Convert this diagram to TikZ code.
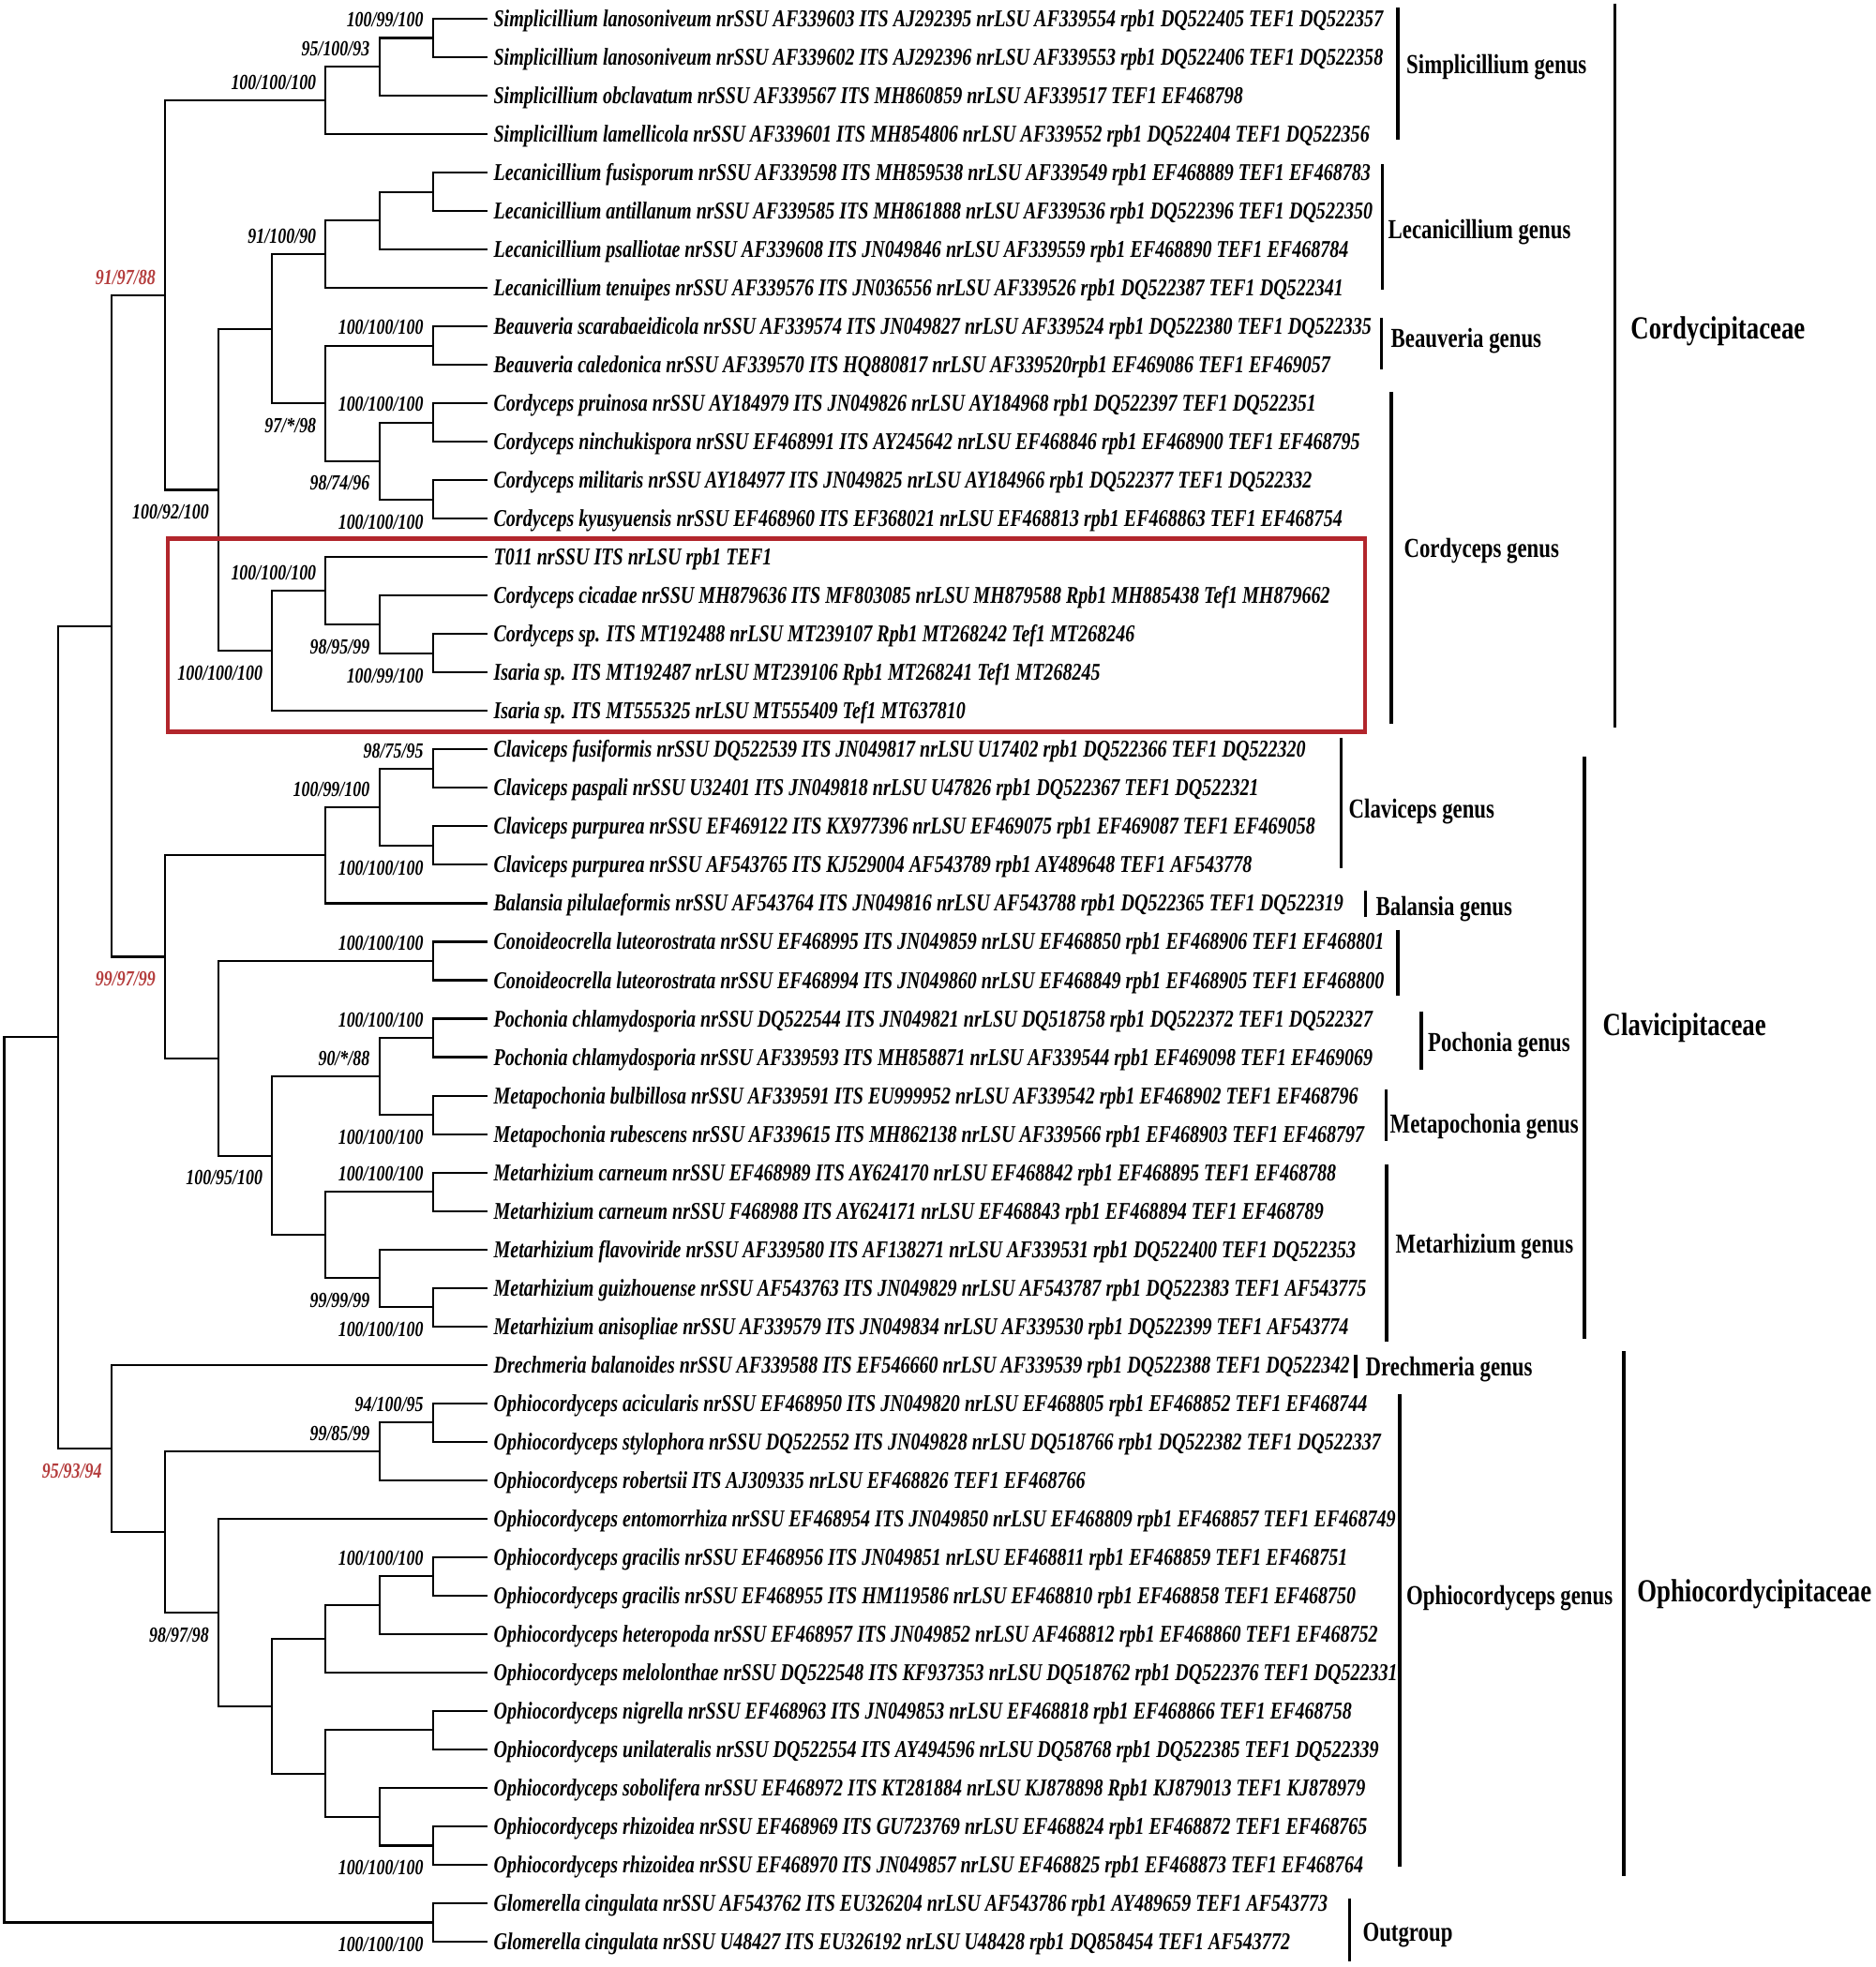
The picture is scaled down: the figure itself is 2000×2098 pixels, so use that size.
\documentclass[tikz,border=0pt]{standalone}
\usepackage{fontspec}
\setmainfont{Liberation Serif}[FakeStretch=0.78]
\usetikzlibrary{calc}
\definecolor{redlab}{RGB}{180,60,60}
\definecolor{redbox}{RGB}{178,38,44}
\tikzset{
  br/.style={line width=0.6pt, line cap=rect},
  bar/.style={line width=1.05pt},
  leaf/.style={anchor=west, inner xsep=2pt, inner ysep=0pt, text height=4.84pt, text depth=0pt,
    font=\fontsize{7.31}{8}\selectfont\bfseries\itshape},
  sup/.style={anchor=east, inner sep=0pt, text height=4.42pt, text depth=0pt,
    font=\fontsize{6.54}{7}\selectfont\bfseries\itshape},
  supr/.style={sup, text=redlab},
  genus/.style={anchor=west, inner sep=0pt, text height=5.5pt, text depth=0pt,
    font=\fontsize{8.32}{9}\selectfont\bfseries},
  family/.style={anchor=west, inner sep=0pt, text height=6.46pt, text depth=0pt,
    font=\fontsize{9.76}{11}\selectfont\bfseries},
  boxred/.style={draw=redbox, line width=1.15pt}
}
\newcommand\brn[2]{\draw[br] (#1) |- (#2);}
\begin{document}
\begin{tikzpicture}[x=0.01cm,y=-0.01cm]
\useasboundingbox (0,0) rectangle (2000,2098);
% ---------- leaves ----------
\node[leaf] (f1) at (518.85,20.00) {Simplicillium lanosoniveum nrSSU AF339603 ITS AJ292395 nrLSU AF339554 rpb1 DQ522405 TEF1 DQ522357};
\node[leaf] (f2) at (518.85,61.02) {Simplicillium lanosoniveum nrSSU AF339602 ITS AJ292396 nrLSU AF339553 rpb1 DQ522406 TEF1 DQ522358};
\node[leaf] (f3) at (518.85,102.04) {Simplicillium obclavatum nrSSU AF339567 ITS MH860859 nrLSU AF339517 TEF1 EF468798};
\node[leaf] (f4) at (518.85,143.06) {Simplicillium lamellicola nrSSU AF339601 ITS MH854806 nrLSU AF339552 rpb1 DQ522404 TEF1 DQ522356};
\node[leaf] (f5) at (518.85,184.08) {Lecanicillium fusisporum nrSSU AF339598 ITS MH859538 nrLSU AF339549 rpb1 EF468889 TEF1 EF468783};
\node[leaf] (f6) at (518.85,225.10) {Lecanicillium antillanum nrSSU AF339585 ITS MH861888 nrLSU AF339536 rpb1 DQ522396 TEF1 DQ522350};
\node[leaf] (f7) at (518.85,266.12) {Lecanicillium psalliotae nrSSU AF339608 ITS JN049846 nrLSU AF339559 rpb1 EF468890 TEF1 EF468784};
\node[leaf] (f8) at (518.85,307.14) {Lecanicillium tenuipes nrSSU AF339576 ITS JN036556 nrLSU AF339526 rpb1 DQ522387 TEF1 DQ522341};
\node[leaf] (f9) at (518.85,348.16) {Beauveria scarabaeidicola nrSSU AF339574 ITS JN049827 nrLSU AF339524 rpb1 DQ522380 TEF1 DQ522335};
\node[leaf] (f10) at (518.85,389.18) {Beauveria caledonica nrSSU AF339570 ITS HQ880817 nrLSU AF339520rpb1 EF469086 TEF1 EF469057};
\node[leaf] (f11) at (518.85,430.20) {Cordyceps pruinosa nrSSU AY184979 ITS JN049826 nrLSU AY184968 rpb1 DQ522397 TEF1 DQ522351};
\node[leaf] (f12) at (518.85,471.22) {Cordyceps ninchukispora nrSSU EF468991 ITS AY245642 nrLSU EF468846 rpb1 EF468900 TEF1 EF468795};
\node[leaf] (f13) at (518.85,512.24) {Cordyceps militaris nrSSU AY184977 ITS JN049825 nrLSU AY184966 rpb1 DQ522377 TEF1 DQ522332};
\node[leaf] (f14) at (518.85,553.26) {Cordyceps kyusyuensis nrSSU EF468960 ITS EF368021 nrLSU EF468813 rpb1 EF468863 TEF1 EF468754};
\node[leaf] (f15) at (518.85,594.28) {T011 nrSSU ITS nrLSU rpb1 TEF1};
\node[leaf] (f16) at (518.85,635.30) {Cordyceps cicadae nrSSU MH879636 ITS MF803085 nrLSU MH879588 Rpb1 MH885438 Tef1 MH879662};
\node[leaf] (f17) at (518.85,676.32) {Cordyceps sp. ITS MT192488 nrLSU MT239107 Rpb1 MT268242 Tef1 MT268246};
\node[leaf] (f18) at (518.85,717.34) {Isaria sp. ITS MT192487 nrLSU MT239106 Rpb1 MT268241 Tef1 MT268245};
\node[leaf] (f19) at (518.85,758.36) {Isaria sp. ITS MT555325 nrLSU MT555409 Tef1 MT637810};
\node[leaf] (f20) at (518.85,799.38) {Claviceps fusiformis nrSSU DQ522539 ITS JN049817 nrLSU U17402 rpb1 DQ522366 TEF1 DQ522320};
\node[leaf] (f21) at (518.85,840.40) {Claviceps paspali nrSSU U32401 ITS JN049818 nrLSU U47826 rpb1 DQ522367 TEF1 DQ522321};
\node[leaf] (f22) at (518.85,881.42) {Claviceps purpurea nrSSU EF469122 ITS KX977396 nrLSU EF469075 rpb1 EF469087 TEF1 EF469058};
\node[leaf] (f23) at (518.85,922.44) {Claviceps purpurea nrSSU AF543765 ITS KJ529004 AF543789 rpb1 AY489648 TEF1 AF543778};
\node[leaf] (f24) at (518.85,963.46) {Balansia pilulaeformis nrSSU AF543764 ITS JN049816 nrLSU AF543788 rpb1 DQ522365 TEF1 DQ522319};
\node[leaf] (f25) at (518.85,1004.48) {Conoideocrella luteorostrata nrSSU EF468995 ITS JN049859 nrLSU EF468850 rpb1 EF468906 TEF1 EF468801};
\node[leaf] (f26) at (518.85,1045.50) {Conoideocrella luteorostrata nrSSU EF468994 ITS JN049860 nrLSU EF468849 rpb1 EF468905 TEF1 EF468800};
\node[leaf] (f27) at (518.85,1086.52) {Pochonia chlamydosporia nrSSU DQ522544 ITS JN049821 nrLSU DQ518758 rpb1 DQ522372 TEF1 DQ522327};
\node[leaf] (f28) at (518.85,1127.54) {Pochonia chlamydosporia nrSSU AF339593 ITS MH858871 nrLSU AF339544 rpb1 EF469098 TEF1 EF469069};
\node[leaf] (f29) at (518.85,1168.56) {Metapochonia bulbillosa nrSSU AF339591 ITS EU999952 nrLSU AF339542 rpb1 EF468902 TEF1 EF468796};
\node[leaf] (f30) at (518.85,1209.58) {Metapochonia rubescens nrSSU AF339615 ITS MH862138 nrLSU AF339566 rpb1 EF468903 TEF1 EF468797};
\node[leaf] (f31) at (518.85,1250.60) {Metarhizium carneum nrSSU EF468989 ITS AY624170 nrLSU EF468842 rpb1 EF468895 TEF1 EF468788};
\node[leaf] (f32) at (518.85,1291.62) {Metarhizium carneum nrSSU F468988 ITS AY624171 nrLSU EF468843 rpb1 EF468894 TEF1 EF468789};
\node[leaf] (f33) at (518.85,1332.64) {Metarhizium flavoviride nrSSU AF339580 ITS AF138271 nrLSU AF339531 rpb1 DQ522400 TEF1 DQ522353};
\node[leaf] (f34) at (518.85,1373.66) {Metarhizium guizhouense nrSSU AF543763 ITS JN049829 nrLSU AF543787 rpb1 DQ522383 TEF1 AF543775};
\node[leaf] (f35) at (518.85,1414.68) {Metarhizium anisopliae nrSSU AF339579 ITS JN049834 nrLSU AF339530 rpb1 DQ522399 TEF1 AF543774};
\node[leaf] (f36) at (518.85,1455.70) {Drechmeria balanoides nrSSU AF339588 ITS EF546660 nrLSU AF339539 rpb1 DQ522388 TEF1 DQ522342};
\node[leaf] (f37) at (518.85,1496.72) {Ophiocordyceps acicularis nrSSU EF468950 ITS JN049820 nrLSU EF468805 rpb1 EF468852 TEF1 EF468744};
\node[leaf] (f38) at (518.85,1537.74) {Ophiocordyceps stylophora nrSSU DQ522552 ITS JN049828 nrLSU DQ518766 rpb1 DQ522382 TEF1 DQ522337};
\node[leaf] (f39) at (518.85,1578.76) {Ophiocordyceps robertsii ITS AJ309335 nrLSU EF468826 TEF1 EF468766};
\node[leaf] (f40) at (518.85,1619.78) {Ophiocordyceps entomorrhiza nrSSU EF468954 ITS JN049850 nrLSU EF468809 rpb1 EF468857 TEF1 EF468749};
\node[leaf] (f41) at (518.85,1660.80) {Ophiocordyceps gracilis nrSSU EF468956 ITS JN049851 nrLSU EF468811 rpb1 EF468859 TEF1 EF468751};
\node[leaf] (f42) at (518.85,1701.82) {Ophiocordyceps gracilis nrSSU EF468955 ITS HM119586 nrLSU EF468810 rpb1 EF468858 TEF1 EF468750};
\node[leaf] (f43) at (518.85,1742.84) {Ophiocordyceps heteropoda nrSSU EF468957 ITS JN049852 nrLSU AF468812 rpb1 EF468860 TEF1 EF468752};
\node[leaf] (f44) at (518.85,1783.86) {Ophiocordyceps melolonthae nrSSU DQ522548 ITS KF937353 nrLSU DQ518762 rpb1 DQ522376 TEF1 DQ522331};
\node[leaf] (f45) at (518.85,1824.88) {Ophiocordyceps nigrella nrSSU EF468963 ITS JN049853 nrLSU EF468818 rpb1 EF468866 TEF1 EF468758};
\node[leaf] (f46) at (518.85,1865.90) {Ophiocordyceps unilateralis nrSSU DQ522554 ITS AY494596 nrLSU DQ58768 rpb1 DQ522385 TEF1 DQ522339};
\node[leaf] (f47) at (518.85,1906.92) {Ophiocordyceps sobolifera nrSSU EF468972 ITS KT281884 nrLSU KJ878898 Rpb1 KJ879013 TEF1 KJ878979};
\node[leaf] (f48) at (518.85,1947.94) {Ophiocordyceps rhizoidea nrSSU EF468969 ITS GU723769 nrLSU EF468824 rpb1 EF468872 TEF1 EF468765};
\node[leaf] (f49) at (518.85,1988.96) {Ophiocordyceps rhizoidea nrSSU EF468970 ITS JN049857 nrLSU EF468825 rpb1 EF468873 TEF1 EF468764};
\node[leaf] (f50) at (518.85,2029.98) {Glomerella cingulata nrSSU AF543762 ITS EU326204 nrLSU AF543786 rpb1 AY489659 TEF1 AF543773};
\node[leaf] (f51) at (518.85,2071.00) {Glomerella cingulata nrSSU U48427 ITS EU326192 nrLSU U48428 rpb1 DQ858454 TEF1 AF543772};
% ---------- internal nodes ----------
\coordinate (nA) at (461.70,40.51);
\coordinate (nB) at (404.55,71.28);
\coordinate (nC) at (347.40,107.17);
\coordinate (n56) at (461.70,204.59);
\coordinate (n567) at (404.55,235.36);
\coordinate (nLec) at (347.40,271.25);
\coordinate (nBeau) at (461.70,368.67);
\coordinate (nC12) at (461.70,450.71);
\coordinate (nC34) at (461.70,532.75);
\coordinate (nCord) at (404.55,491.73);
\coordinate (nBC) at (347.40,430.20);
\coordinate (nF) at (290.25,350.73);
\coordinate (nT3) at (461.70,696.83);
\coordinate (nT2) at (404.55,666.07);
\coordinate (nT1) at (347.40,630.18);
\coordinate (nT) at (290.25,694.27);
\coordinate (nE) at (233.10,522.50);
\coordinate (nD) at (175.95,314.84);
\coordinate (nCl12) at (461.70,819.89);
\coordinate (nCl34) at (461.70,901.93);
\coordinate (nCl) at (404.55,860.91);
\coordinate (nClB) at (347.40,912.19);
\coordinate (nCon) at (461.70,1024.99);
\coordinate (nPoch) at (461.70,1107.03);
\coordinate (nMetap) at (461.70,1189.07);
\coordinate (nPM) at (404.55,1148.05);
\coordinate (nM1) at (461.70,1271.11);
\coordinate (nM3) at (461.70,1394.17);
\coordinate (nM2) at (404.55,1363.41);
\coordinate (nMet) at (347.40,1317.26);
\coordinate (nK3) at (290.25,1232.66);
\coordinate (nK2) at (233.10,1128.83);
\coordinate (nK) at (175.95,1020.51);
\coordinate (nCC) at (118.80,667.68);
\coordinate (nO12) at (461.70,1517.23);
\coordinate (nO3) at (404.55,1548.00);
\coordinate (nO62) at (461.70,1681.31);
\coordinate (nO61) at (404.55,1712.08);
\coordinate (nO6) at (347.40,1747.97);
\coordinate (nO71) at (461.70,1845.39);
\coordinate (nO73) at (461.70,1968.45);
\coordinate (nO72) at (404.55,1937.69);
\coordinate (nO7) at (347.40,1891.54);
\coordinate (nO5) at (290.25,1819.76);
\coordinate (nO4) at (233.10,1719.77);
\coordinate (nO2) at (175.95,1633.89);
\coordinate (nO) at (118.80,1544.80);
\coordinate (nI) at (61.65,1106.24);
\coordinate (nG) at (461.70,2050.49);
\coordinate (nR) at (4.50,1578.37);
% ---------- branches ----------
\brn{nA}{f1.west} \brn{nA}{f2.west}
\brn{nB}{nA} \brn{nB}{f3.west}
\brn{nC}{nB} \brn{nC}{f4.west}
\brn{n56}{f5.west} \brn{n56}{f6.west}
\brn{n567}{n56} \brn{n567}{f7.west}
\brn{nLec}{n567} \brn{nLec}{f8.west}
\brn{nBeau}{f9.west} \brn{nBeau}{f10.west}
\brn{nC12}{f11.west} \brn{nC12}{f12.west}
\brn{nC34}{f13.west} \brn{nC34}{f14.west}
\brn{nCord}{nC12} \brn{nCord}{nC34}
\brn{nBC}{nBeau} \brn{nBC}{nCord}
\brn{nF}{nLec} \brn{nF}{nBC}
\brn{nT3}{f17.west} \brn{nT3}{f18.west}
\brn{nT2}{f16.west} \brn{nT2}{nT3}
\brn{nT1}{f15.west} \brn{nT1}{nT2}
\brn{nT}{nT1} \brn{nT}{f19.west}
\brn{nE}{nF} \brn{nE}{nT}
\brn{nD}{nC} \brn{nD}{nE}
\brn{nCl12}{f20.west} \brn{nCl12}{f21.west}
\brn{nCl34}{f22.west} \brn{nCl34}{f23.west}
\brn{nCl}{nCl12} \brn{nCl}{nCl34}
\brn{nClB}{nCl} \brn{nClB}{f24.west}
\brn{nCon}{f25.west} \brn{nCon}{f26.west}
\brn{nPoch}{f27.west} \brn{nPoch}{f28.west}
\brn{nMetap}{f29.west} \brn{nMetap}{f30.west}
\brn{nPM}{nPoch} \brn{nPM}{nMetap}
\brn{nM1}{f31.west} \brn{nM1}{f32.west}
\brn{nM3}{f34.west} \brn{nM3}{f35.west}
\brn{nM2}{f33.west} \brn{nM2}{nM3}
\brn{nMet}{nM1} \brn{nMet}{nM2}
\brn{nK3}{nPM} \brn{nK3}{nMet}
\brn{nK2}{nCon} \brn{nK2}{nK3}
\brn{nK}{nClB} \brn{nK}{nK2}
\brn{nCC}{nD} \brn{nCC}{nK}
\brn{nO12}{f37.west} \brn{nO12}{f38.west}
\brn{nO3}{nO12} \brn{nO3}{f39.west}
\brn{nO62}{f41.west} \brn{nO62}{f42.west}
\brn{nO61}{nO62} \brn{nO61}{f43.west}
\brn{nO6}{nO61} \brn{nO6}{f44.west}
\brn{nO71}{f45.west} \brn{nO71}{f46.west}
\brn{nO73}{f48.west} \brn{nO73}{f49.west}
\brn{nO72}{f47.west} \brn{nO72}{nO73}
\brn{nO7}{nO71} \brn{nO7}{nO72}
\brn{nO5}{nO6} \brn{nO5}{nO7}
\brn{nO4}{f40.west} \brn{nO4}{nO5}
\brn{nO2}{nO3} \brn{nO2}{nO4}
\brn{nO}{f36.west} \brn{nO}{nO2}
\brn{nI}{nCC} \brn{nI}{nO}
\brn{nG}{f50.west} \brn{nG}{f51.west}
\brn{nR}{nI} \brn{nR}{nG}
% ---------- support values ----------
\node[sup] (sA) at ($(nA)+(-9.5,-19.5)$) {100/99/100};
\node[sup] (sB) at ($(nB)+(-9.5,-19.5)$) {95/100/93};
\node[sup] (sC) at ($(nC)+(-9.5,-19.5)$) {100/100/100};
\node[supr] (sD) at ($(nD)+(-9.5,-19.5)$) {91/97/88};
\node[sup] (sLec) at ($(nLec)+(-9.5,-19.5)$) {91/100/90};
\node[sup] (sBeau) at ($(nBeau)+(-9.5,-19.5)$) {100/100/100};
\node[sup] (sC12) at ($(nC12)+(-9.5,-19.5)$) {100/100/100};
\node[sup] (sBC) at ($(nBC)+(-9.5,23.5)$) {97/*/98};
\node[sup] (sCord) at ($(nCord)+(-9.5,23.5)$) {98/74/96};
\node[sup] (sE) at ($(nE)+(-9.5,23.5)$) {100/92/100};
\node[sup] (sC34) at ($(nC34)+(-9.5,23.5)$) {100/100/100};
\node[sup] (sT1) at ($(nT1)+(-9.5,-19.5)$) {100/100/100};
\node[sup] (sT2) at ($(nT2)+(-9.5,23.5)$) {98/95/99};
\node[sup] (sT) at ($(nT)+(-9.5,23.5)$) {100/100/100};
\node[sup] (sT3) at ($(nT3)+(-9.5,23.5)$) {100/99/100};
\node[sup] (sCl12) at ($(nCl12)+(-9.5,-19.5)$) {98/75/95};
\node[sup] (sCl) at ($(nCl)+(-9.5,-19.5)$) {100/99/100};
\node[sup] (sCl34) at ($(nCl34)+(-9.5,23.5)$) {100/100/100};
\node[supr] (sK) at ($(nK)+(-9.5,23.5)$) {99/97/99};
\node[sup] (sCon) at ($(nCon)+(-9.5,-19.5)$) {100/100/100};
\node[sup] (sPoch) at ($(nPoch)+(-9.5,-19.5)$) {100/100/100};
\node[sup] (sPM) at ($(nPM)+(-9.5,-19.5)$) {90/*/88};
\node[sup] (sMetap) at ($(nMetap)+(-9.5,23.5)$) {100/100/100};
\node[sup] (sK3) at ($(nK3)+(-9.5,23.5)$) {100/95/100};
\node[sup] (sM1) at ($(nM1)+(-9.5,-19.5)$) {100/100/100};
\node[sup] (sM2) at ($(nM2)+(-9.5,23.5)$) {99/99/99};
\node[sup] (sM3) at ($(nM3)+(-9.5,23.5)$) {100/100/100};
\node[sup] (sO12) at ($(nO12)+(-9.5,-19.5)$) {94/100/95};
\node[sup] (sO3) at ($(nO3)+(-9.5,-19.5)$) {99/85/99};
\node[supr] (sO) at ($(nO)+(-9.5,23.5)$) {95/93/94};
\node[sup] (sO62) at ($(nO62)+(-9.5,-19.5)$) {100/100/100};
\node[sup] (sO4) at ($(nO4)+(-9.5,23.5)$) {98/97/98};
\node[sup] (sO73) at ($(nO73)+(-9.5,23.5)$) {100/100/100};
\node[sup] (sG) at ($(nG)+(-9.5,23.5)$) {100/100/100};
% ---------- highlight box ----------
\draw[boxred] (178.6,574.5) rectangle (1455.5,780.5);
% ---------- clade bars and labels ----------
\draw[bar] (1490.7,8) -- (1490.7,148.7);
\node[genus] (gSim) at (1499.5,69) {Simplicillium genus};
\draw[bar] (1474.6,175.4) -- (1474.6,309);
\node[genus] (gLec) at (1480,244.6) {Lecanicillium genus};
\draw[bar] (1473.5,339) -- (1473.5,393.7);
\node[genus] (gBea) at (1483,360.7) {Beauveria genus};
\draw[bar] (1484,418) -- (1484,772);
\node[genus] (gCor) at (1496.8,584.8) {Cordyceps genus};
\draw[bar] (1722.6,3.6) -- (1722.6,776);
\node[family] (fCor) at (1738.7,350.4) {Cordycipitaceae};
\draw[bar] (1430.6,787) -- (1430.6,926);
\node[genus] (gCla) at (1438,863) {Claviceps genus};
\draw[bar] (1456.6,950) -- (1456.6,977.7);
\node[genus] (gBal) at (1467,966.5) {Balansia genus};
\draw[bar] (1490.7,991.5) -- (1490.7,1061.6);
\draw[bar] (1516,1078.6) -- (1516,1141);
\node[genus] (gPoc) at (1522.5,1111.6) {Pochonia genus};
\draw[bar] (1478.5,1162) -- (1478.5,1216.5);
\node[genus] (gMtp) at (1482,1198.6) {Metapochonia genus};
\draw[bar] (1479,1242) -- (1479,1431);
\node[genus] (gMet) at (1488,1327) {Metarhizium genus};
\draw[bar] (1690,807) -- (1690,1427.6);
\node[family] (fCla) at (1709,1092.8) {Clavicipitaceae};
\draw[bar] (1446,1444.5) -- (1446,1470);
\node[genus] (gDre) at (1456,1458) {Drechmeria genus};
\draw[bar] (1493,1486.8) -- (1493,1991);
\node[genus] (gOph) at (1499.5,1702) {Ophiocordyceps genus};
\draw[bar] (1731.8,1441) -- (1731.8,2001);
\node[family] (fOph) at (1745.6,1697.4) {Ophiocordycipitaceae};
\draw[bar] (1439.4,2024.7) -- (1439.4,2092);
\node[genus] (gOut) at (1452.8,2061) {Outgroup};
\end{tikzpicture}
\end{document}
